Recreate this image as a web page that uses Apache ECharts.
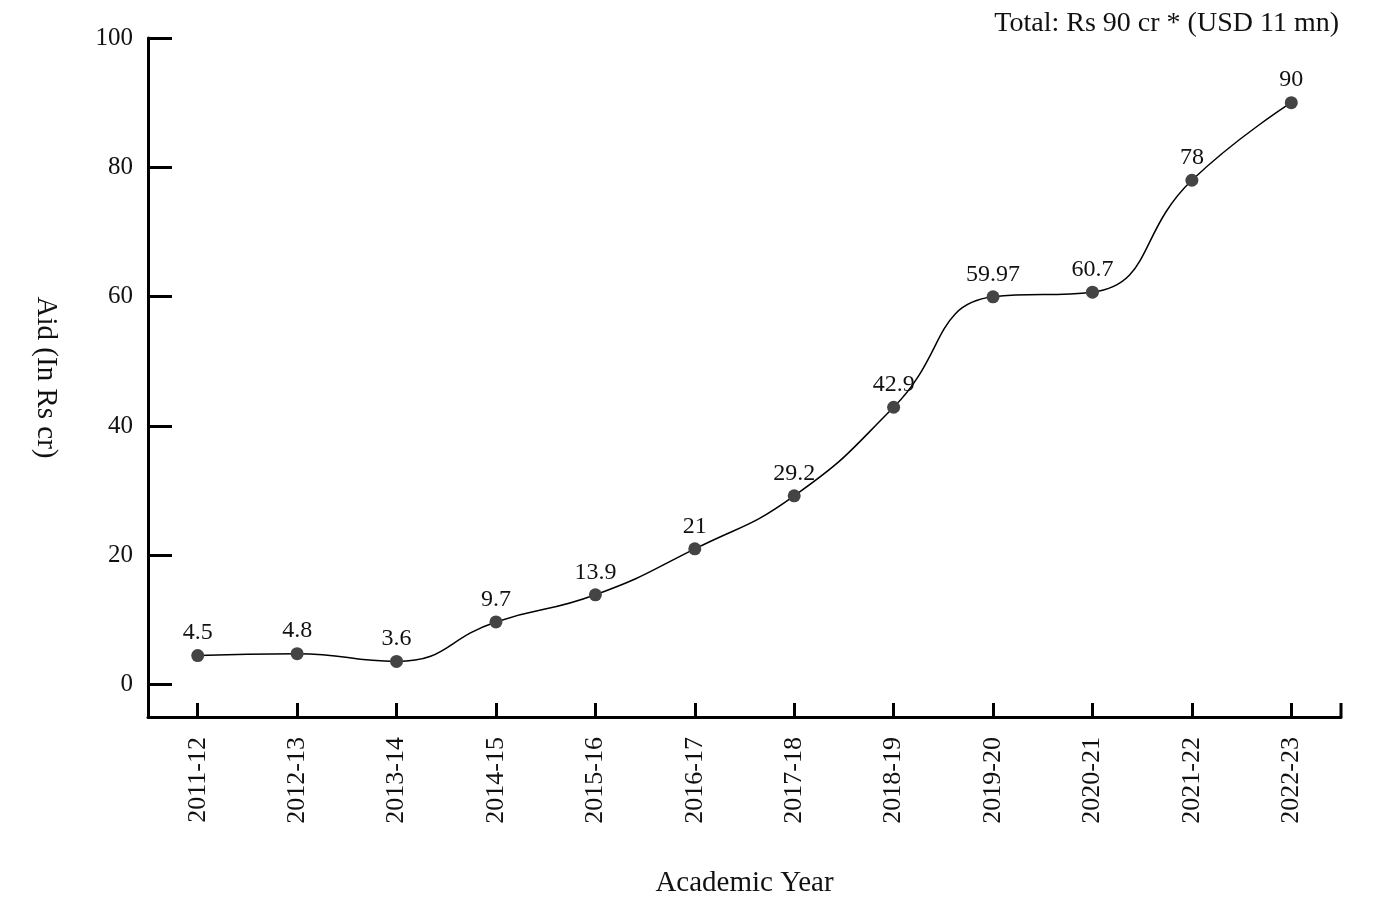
<!DOCTYPE html>
<html>
<head>
<meta charset="utf-8">
<script src="https://cdn.jsdelivr.net/npm/echarts@6/dist/echarts.min.js"></script>
<style>html,body{margin:0;padding:0;background:#fff}#c{width:1391px;height:903px}</style>
</head>
<body>
<div id="c"></div>
<script>
const categories = ['2011-12','2012-13','2013-14','2014-15','2015-16','2016-17','2017-18','2018-19','2019-20','2020-21','2021-22','2022-23'];
const aidValues = [4.5, 4.8, 3.6, 9.7, 13.9, 21, 29.2, 42.9, 59.97, 60.7, 78, 90];
const yTickValues = [0, 20, 40, 60, 80, 100];

const FONT = 'Liberation Serif';
const chart = echarts.init(document.getElementById('c'));
const G = {left: 148, right: 50, top: 38, bottom: 186};
chart.setOption({
  backgroundColor: '#fff',
  animation: false,
  title: {
    text: 'Total: Rs 90 cr * (USD 11 mn)',
    right: 47, top: 5,
    textStyle: {fontFamily: FONT, fontSize: 28, fontWeight: 'normal', color: '#111'}
  },
  grid: G,
  xAxis: {
    type: 'category',
    data: categories,
    boundaryGap: true,
    name: 'Academic Year',
    nameLocation: 'middle',
    nameGap: 152,
    nameTextStyle: {fontFamily: FONT, fontSize: 29, color: '#111'},
    axisLine: {onZero: false, lineStyle: {color: '#000', width: 3}},
    axisTick: {show: true, alignWithLabel: true, inside: true, length: 14, lineStyle: {color: '#000', width: 3}},
    axisLabel: {rotate: 90, margin: 20, fontFamily: FONT, fontSize: 26, color: '#111'},
    splitLine: {show: false}
  },
  yAxis: {
    type: 'value',
    min: -5, max: 100,
    name: 'Aid (In Rs cr)',
    nameLocation: 'middle',
    nameRotate: -90,
    nameGap: 88,
    nameTextStyle: {fontFamily: FONT, fontSize: 29, color: '#111'},
    axisLine: {show: true, lineStyle: {color: '#000', width: 3}},
    axisTick: {show: true, inside: true, length: 24, customValues: yTickValues, lineStyle: {color: '#000', width: 3}},
    axisLabel: {margin: 15, fontFamily: FONT, fontSize: 25, color: '#111', customValues: yTickValues},
    splitLine: {show: false}
  },
  series: [{
    type: 'line',
    data: aidValues,
    smooth: 0.5,
    symbol: 'circle',
    symbolSize: 13,
    itemStyle: {color: '#444'},
    lineStyle: {color: '#000', width: 1.5},
    label: {show: true, position: 'top', distance: 4, fontFamily: FONT, fontSize: 24, color: '#111'}
  }],
  graphic: [{
    type: 'line',
    shape: {x1: 1391 - G.right, y1: 903 - G.bottom, x2: 1391 - G.right, y2: 903 - G.bottom - 14},
    style: {stroke: '#000', lineWidth: 3}
  }]
});
</script>
</body>
</html>
